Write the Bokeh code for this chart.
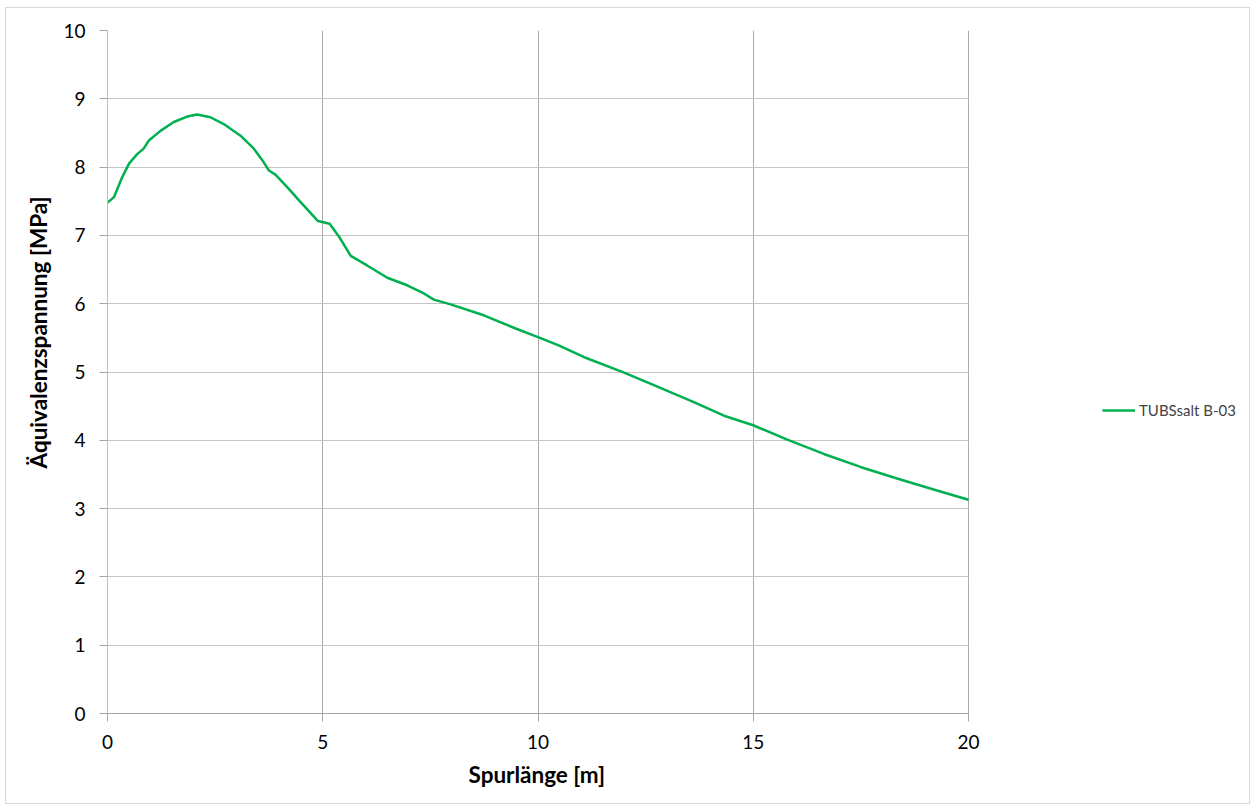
from bokeh.plotting import figure
from bokeh.models import Range1d, FixedTicker, Legend, LegendItem, Title
from bokeh.embed import file_html
from bokeh.resources import INLINE

spurlaenge = [0, 0.15, 0.34, 0.5, 0.69, 0.84, 0.96, 1.23, 1.54, 1.85, 2.08, 2.39, 2.70, 3.09, 3.40,
              3.63, 3.75, 3.90, 4.17, 4.48, 4.89, 5.16, 5.38, 5.65, 5.84, 6.03, 6.50, 6.96, 7.35,
              7.58, 7.97, 8.74, 9.51, 10.0, 10.48, 11.06, 12.0, 12.61, 13.62, 14.32, 15.0, 15.79,
              16.64, 17.49, 18.34, 19.19, 20.0]
spannung = [7.48, 7.56, 7.85, 8.05, 8.19, 8.27, 8.39, 8.53, 8.66, 8.74, 8.77, 8.73, 8.63, 8.46, 8.27,
            8.07, 7.95, 7.89, 7.71, 7.49, 7.21, 7.17, 6.98, 6.70, 6.63, 6.56, 6.38, 6.27, 6.15,
            6.06, 5.99, 5.83, 5.63, 5.51, 5.39, 5.22, 4.99, 4.83, 4.56, 4.36, 4.22, 4.01,
            3.80, 3.61, 3.44, 3.28, 3.13]
x_ticks = [0, 5, 10, 15, 20]
y_ticks = [0, 1, 2, 3, 4, 5, 6, 7, 8, 9, 10]
x_min, x_max = 0, 20
series_name = "TUBSsalt B-03"
x_title = "Spurlänge [m]"
y_title = "Äquivalenzspannung [MPa]"

FONT = "Lato"

W, H = 1245, 797
ML, MR, MT, MB = 101, 10, 22, 92
frame_w = W - ML - MR
data_w = 861  # pixel width of the 0..20 data span
x_end = x_max * frame_w / data_w

p = figure(width=W, height=H, output_backend="svg", toolbar_location=None,
           x_range=Range1d(x_min, x_end), y_range=Range1d(0, 10),
           min_border_left=ML, min_border_right=MR, min_border_top=MT, min_border_bottom=MB)
p.styles = {"border": "1px solid #d9d9d9", "margin-left": "5px", "margin-top": "7px"}
p.outline_line_color = None
p.background_fill_color = "white"

r = p.line(spurlaenge, spannung, line_color="#00b050", line_width=2.5)

p.xaxis.ticker = FixedTicker(ticks=x_ticks)
p.yaxis.ticker = FixedTicker(ticks=y_ticks)
p.xaxis.bounds = (x_min, x_max)
for ax in (p.xaxis[0], p.yaxis[0]):
    ax.major_label_text_font = FONT
    ax.major_label_text_font_size = "19px"
    ax.major_label_text_color = "#000000"
    ax.minor_tick_line_color = None
    ax.major_tick_in = 0
    ax.major_tick_out = 8
    ax.major_tick_line_color = "#a6a6a6"
p.xaxis.axis_line_color = "#a6a6a6"
p.yaxis.axis_line_color = "#bfbfbf"
p.xaxis.major_label_standoff = 13
p.yaxis.major_label_standoff = 14

xtitle = Title(text=x_title, align="left", offset=361, text_font=FONT,
               text_font_size="22.5px", text_font_style="bold", text_color="#000000",
               standoff=15)
p.add_layout(xtitle, "below")

ytitle = Title(text=y_title, align="left", offset=245, text_font=FONT,
               text_font_size="22.5px", text_font_style="bold", text_color="#000000",
               standoff=17)
p.add_layout(ytitle, "left")

p.xgrid.ticker = FixedTicker(ticks=x_ticks)
p.ygrid.ticker = FixedTicker(ticks=y_ticks)
p.ygrid.cross_bounds = (x_min, x_max)
p.xgrid.grid_line_color = "#ababab"
p.ygrid.grid_line_color = "#c4c4c4"
p.grid.grid_line_width = 1

legend = Legend(items=[LegendItem(label=series_name, renderers=[r])],
                location=(995, 293), border_line_color=None, background_fill_alpha=0,
                label_text_font=FONT, label_text_font_size="15px", glyph_width=33,
                glyph_height=20, label_height=20,
                label_standoff=4, padding=0, margin=0, spacing=0)
p.add_layout(legend, "center")

open("out.html", "w").write(file_html(p, INLINE))
